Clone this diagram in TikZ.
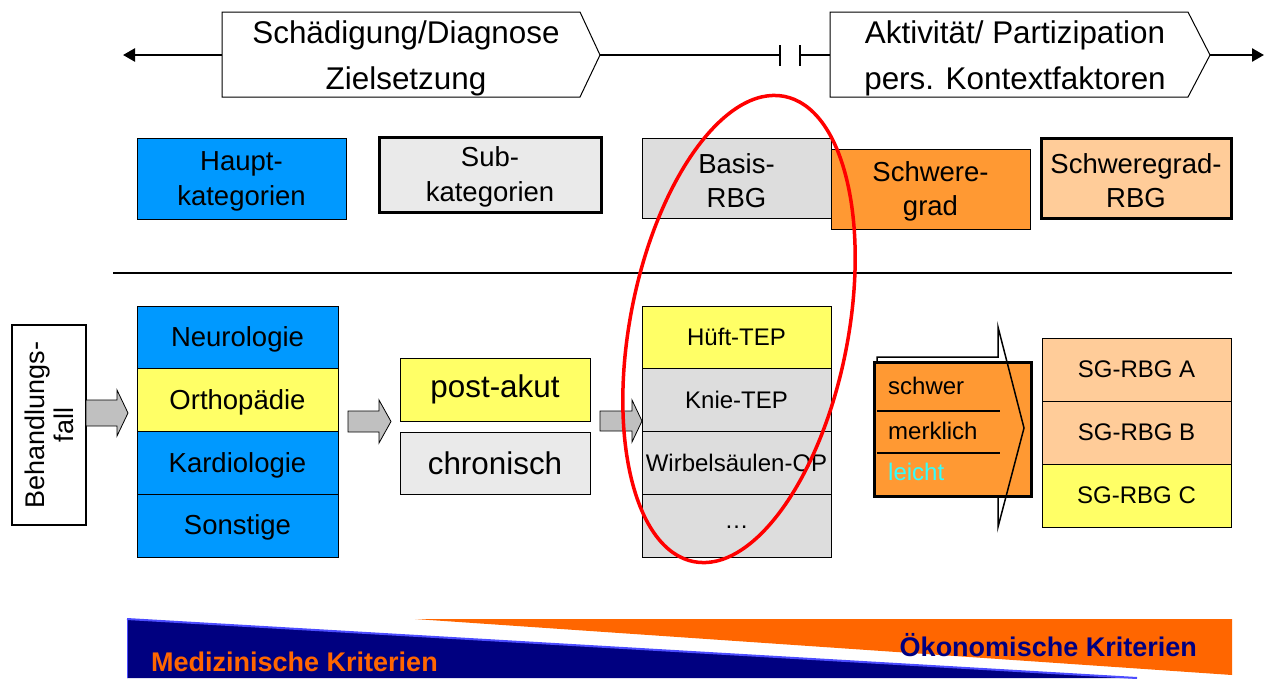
\documentclass[tikz,border=0pt]{standalone}
\usepackage{fontspec}
\setmainfont{Liberation Sans}
\usetikzlibrary{arrows.meta}
\definecolor{hkblue}{HTML}{0099FF}
\definecolor{yel}{HTML}{FFFF66}
\definecolor{lgray}{HTML}{EAEAEA}
\definecolor{mgray}{HTML}{DDDDDD}
\definecolor{sgor}{HTML}{FF9933}
\definecolor{peach}{HTML}{FFCC99}
\definecolor{agray}{HTML}{C0C0C0}
\definecolor{navy}{HTML}{000080}
\definecolor{bor}{HTML}{FF6600}
\definecolor{lcyan}{HTML}{33FFFF}
\newcommand{\tallstrut}{\rule{0pt}{25pt}}
\begin{document}
\begin{tikzpicture}[x=1pt,y=-1pt,
  box/.style={draw, line width=0.8, inner sep=0pt, outer sep=0pt, align=center,
    font=\fontsize{27.5}{34.5}\selectfont},
  lowbox/.style={box, text height=24pt},
  legbox/.style={box},
  thickbox/.style={legbox, line width=3},
  cell/.style={box, font=\fontsize{24}{29}\selectfont},
  bigtxt/.style={align=center, inner sep=0pt, font=\fontsize{31.4}{46}\selectfont},
  pent/.style={draw, line width=1, fill=white},
  axis/.style={line width=2.5},
  barrow/.style={draw, line width=0.8, fill=agray},
  tip/.style={-{Triangle[length=12,width=13]}}
]
\useasboundingbox (0,0) rectangle (1268,678);

% ---- top axis ----
\draw[pent] (222,12) -- (580,12) -- (600,55) -- (580,97) -- (222,97) -- cycle;
\draw[pent] (830,12) -- (1188,12) -- (1210,55) -- (1188,97) -- (830,97) -- cycle;
\node[bigtxt] (zs) at (406,58) {Schädigung/Diagnose\\Zielsetzung};
\node[bigtxt] (ap) at (1015,58) {Aktivität/ Partizipation\\pers. Kontextfaktoren};
\coordinate (lend) at (123,55);
\coordinate (rend) at (1264,55);
\coordinate (t1) at (780,55);
\coordinate (t2) at (800,55);
\draw[axis,tip] (222,55) -- (lend);
\draw[axis] (600,55) -- (t1);
\draw[axis] (t2) -- (830,55);
\draw[axis,tip] (1210,55) -- (rend);
\draw[axis] (780,45) -- (780,66);
\draw[axis] (800,45) -- (800,66);

% ---- legend row ----
\node[legbox, fill=hkblue, minimum width=209, minimum height=81] (hk) at (241.5,178.5) {\tallstrut Haupt-\\kategorien};
\node[thickbox, fill=lgray, minimum width=222, minimum height=75] (sk) at (490,174.5) {\tallstrut Sub-\\kategorien};
\node[legbox, fill=mgray, minimum width=189, minimum height=80] (br) at (736.5,178) {\tallstrut Basis-\\RBG};
\node[legbox, fill=sgor, minimum width=199, minimum height=80] (sg) at (930.5,189) {\tallstrut Schwere-\\grad};
\node[thickbox, fill=peach, minimum width=190, minimum height=80] (sr) at (1136,178) {\tallstrut Schweregrad-\\RBG};

\draw[line width=2.5] (113,273) -- (1232,273);

% ---- Behandlungsfall ----
\node[box, line width=2.5, fill=white, rotate=90, minimum width=200, minimum height=74,
  font=\fontsize{27}{29}\selectfont] (beh) at (49,425) {Behandlungs-\\fall};

% ---- Hauptkategorien column ----
\node[lowbox, fill=hkblue, minimum width=201, minimum height=62.75] (neu) at (237.5,337.4) {Neurologie};
\node[lowbox, fill=yel, minimum width=201, minimum height=62.75] (ort) at (237.5,400.1) {Orthopädie};
\node[lowbox, fill=hkblue, minimum width=201, minimum height=62.75] (kar) at (237.5,462.9) {Kardiologie};
\node[lowbox, fill=hkblue, minimum width=201, minimum height=62.75] (son) at (237.5,525.6) {Sonstige};

% ---- Subkategorien ----
\node[box, fill=yel, minimum width=190, minimum height=63, font=\fontsize{31.4}{36}\selectfont] (pa) at (495,389.5) {\raisebox{-2pt}{post-akut}};
\node[box, fill=lgray, minimum width=190, minimum height=62, font=\fontsize{31.4}{36}\selectfont] (ch) at (495,463) {chronisch};

% ---- Basis-RBG column ----
\node[cell, fill=yel, minimum width=189, minimum height=62.75] (hu) at (736.5,337.4) {Hüft-TEP};
\node[cell, fill=mgray, minimum width=189, minimum height=62.75] (kn) at (736.5,400.1) {Knie-TEP};
\node[cell, fill=mgray, minimum width=189, minimum height=62.75] (wi) at (736.5,462.9) {Wirbelsäulen-OP};
\node[cell, fill=mgray, minimum width=189, minimum height=62.75] (dots) at (736.5,525.6) {\raisebox{-6pt}{\dots}};

% ---- Schweregrad block ----
\draw[line width=3, fill=sgor] (874,362) rectangle (1031,496);
\draw[line width=1.5] (877,362) -- (877,357) -- (998,357) -- (998,327) -- (1024,428) -- (998,527) -- (998,496);
\draw[line width=1.5] (877,411) -- (1000,411);
\draw[line width=1.5] (877,453) -- (1000,453);
\node[anchor=west, inner sep=0pt, font=\fontsize{24}{29}\selectfont] (sw) at (888,386) {schwer};
\node[anchor=west, inner sep=0pt, font=\fontsize{24}{29}\selectfont] (mk) at (888,431) {merklich};
\node[anchor=west, inner sep=0pt, text=lcyan, font=\fontsize{24}{29}\selectfont] (le) at (888,472) {leicht};

% ---- SG-RBG column ----
\node[cell, fill=peach, minimum width=189, minimum height=63] (sa) at (1136.5,369.5) {SG-RBG A};
\node[cell, fill=peach, minimum width=189, minimum height=63] (sb) at (1136.5,432.5) {SG-RBG B};
\node[cell, fill=yel, minimum width=189, minimum height=63] (sc) at (1136.5,495.5) {SG-RBG C};

% ---- block arrows ----
\draw[barrow] (86,400) -- (117,400) -- (117,390) -- (128,413) -- (117,436) -- (117,426) -- (86,426) -- cycle;
\draw[barrow] (348,411) -- (379,411) -- (379,400) -- (391,421.5) -- (379,443) -- (379,432) -- (348,432) -- cycle;
\draw[barrow] (600,411) -- (632,411) -- (632,400) -- (642,421) -- (632,442) -- (632,431) -- (600,431) -- cycle;

% ---- red ellipse ----
\draw[red, line width=3.5, rotate around={-11:(739,329)}] (739,329) ellipse [x radius=109, y radius=237];

% ---- bottom band ----
\fill[navy] (127,619) -- (1137,678) -- (127,678) -- cycle;
\draw[blue!70!white, line width=2] (127,619) -- (1137,678);
\draw[blue!70!white, line width=1.5] (127.5,619) -- (127.5,678);
\fill[bor] (415,619) -- (1232,619) -- (1232,675) -- cycle;
\node[anchor=west, inner sep=0pt, text=bor, font=\bfseries\fontsize{27}{30}\selectfont] (med) at (151,662) {Medizinische Kriterien};
\node[anchor=east, inner sep=0pt, text=navy, font=\bfseries\fontsize{27}{30}\selectfont] (oek) at (1197,645) {Ökonomische Kriterien};
\end{tikzpicture}
\end{document}
